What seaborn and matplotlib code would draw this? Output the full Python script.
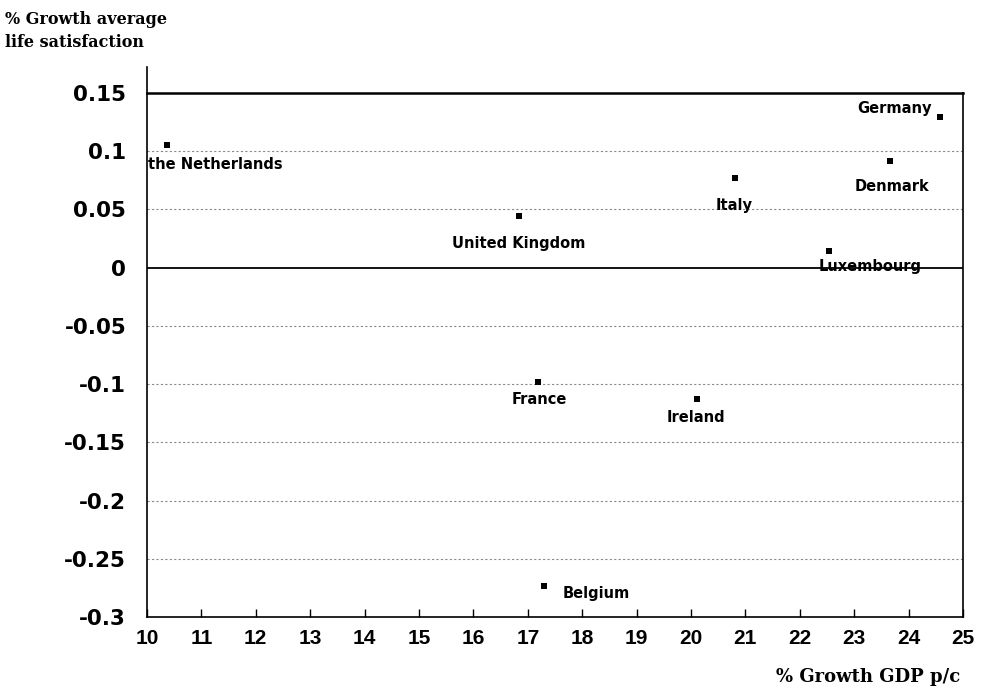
import matplotlib
matplotlib.use("Agg")
import matplotlib.pyplot as plt
import seaborn as sns
import pandas as pd

# data
countries = ["the Netherlands", "United Kingdom", "Italy", "Germany", "Denmark",
             "Luxembourg", "France", "Ireland", "Belgium"]
gdp_growth = [10.37, 16.84, 20.81, 24.58, 23.66, 22.54, 17.19, 20.11, 17.30]
life_sat_growth = [0.105, 0.044, 0.077, 0.129, 0.092, 0.014, -0.098, -0.113, -0.273]

x_ticks = list(range(10, 26))
y_ticks = [0.15, 0.1, 0.05, 0, -0.05, -0.1, -0.15, -0.2, -0.25, -0.3]
y_tick_labels = ["0.15", "0.1", "0.05", "0", "-0.05", "-0.1", "-0.15", "-0.2", "-0.25", "-0.3"]

# label placement (offset in pixels, alignment)
label_pos = {
    "the Netherlands": ((-19, -19), "left"),
    "United Kingdom": ((0, -27), "center"),
    "Italy": ((-1, -27), "center"),
    "Germany": ((-8, 9), "right"),
    "Denmark": ((2, -26), "center"),
    "Luxembourg": ((-11, -15), "left"),
    "France": ((1, -18), "center"),
    "Ireland": ((-1, -18), "center"),
    "Belgium": ((19, -8), "left"),
}

df = pd.DataFrame({"country": countries, "gdp": gdp_growth, "ls": life_sat_growth})

sns.set_style("white")
plt.rcParams["font.family"] = ["DejaVu Sans"]
plt.rcParams["text.color"] = "black"
plt.rcParams["xtick.color"] = "black"
plt.rcParams["ytick.color"] = "black"
serif = ["DejaVu Serif"]

fig = plt.figure(figsize=(9.83, 6.93), dpi=100)
ax = fig.add_axes([147 / 983, 1 - 617 / 693, (963 - 147) / 983, (617 - 93) / 693])

for yv in y_ticks:
    if yv != 0:
        ax.axhline(yv, color="#8a8a8a", lw=0.8, ls=(0, (2, 2)), zorder=0)
ax.axhline(0, color="black", lw=1.3, zorder=1)

sns.scatterplot(data=df, x="gdp", y="ls", marker="s", s=14, color="black",
                edgecolor="black", linewidth=0, ax=ax, zorder=3)

for c, xv, yv in zip(countries, gdp_growth, life_sat_growth):
    (dx, dy), ha = label_pos[c]
    ax.annotate(c, (xv, yv), xytext=(dx, dy), textcoords="offset pixels",
                ha=ha, va="center", fontsize=10.5, fontweight="bold", color="black")

ax.set_xlim(10, 25)
ax.set_ylim(-0.3, 0.15)
ax.set_xticks(x_ticks)
ax.set_xticklabels([str(t) for t in x_ticks], fontsize=15, fontweight="bold",
                   family=["Liberation Sans"])
ax.set_yticks(y_ticks)
ax.set_yticklabels(y_tick_labels, fontsize=15.5, fontweight="bold")
ax.tick_params(axis="x", direction="in", length=6, width=1, pad=9, bottom=True)
ax.tick_params(axis="y", direction="in", length=0, pad=15)
ax.set_xlabel("")
ax.set_ylabel("")

for side in ["left", "right", "top", "bottom"]:
    ax.spines[side].set_color("black")
    ax.spines[side].set_linewidth(1.2)
ax.spines["top"].set_linewidth(1.8)
ax.spines["left"].set_bounds(-0.3, 0.172)

fig.text(5 / 983, 1 - 11 / 693, "% Growth average\nlife satisfaction", ha="left", va="top",
         fontsize=11.5, fontweight="bold", family=serif, linespacing=1.45)
fig.text(960 / 983, 1 - 677 / 693, "% Growth GDP p/c", ha="right", va="center",
         fontsize=13, fontweight="bold", family=serif)

fig.savefig("out.png", dpi=100)
